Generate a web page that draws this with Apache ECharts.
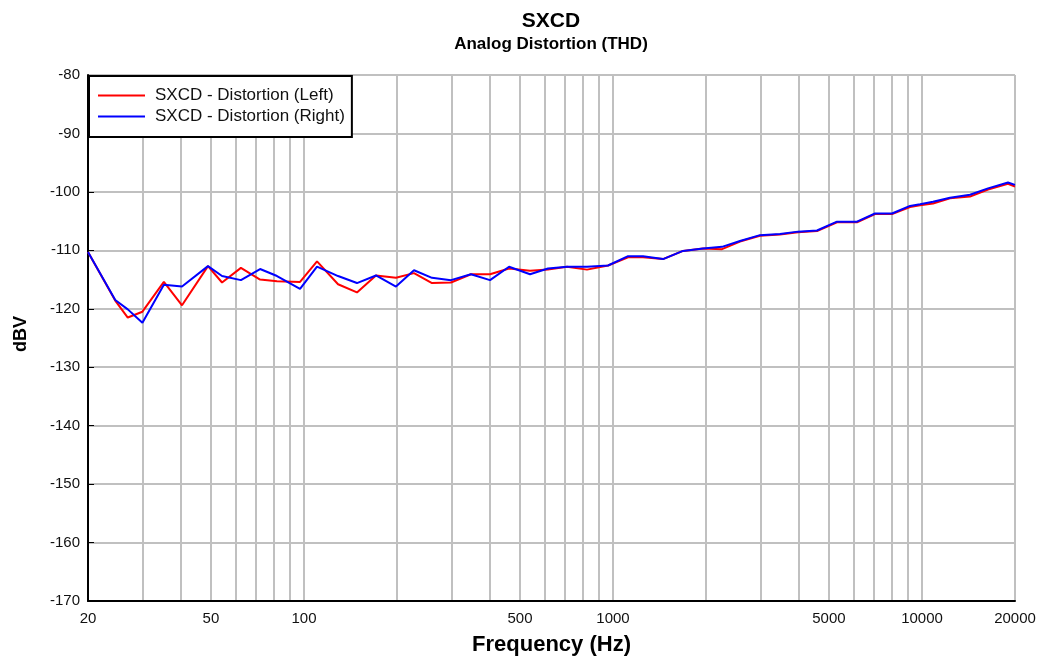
<!DOCTYPE html>
<html>
<head>
<meta charset="utf-8">
<script src="https://cdn.jsdelivr.net/npm/echarts@6/dist/echarts.min.js"></script>
<style>
  html, body { margin: 0; padding: 0; background: #fff; }
  #chart { width: 1042px; height: 661px; }
</style>
</head>
<body>
<div id="chart"></div>
<script>
// Frequency points (Hz) of the THD sweep
const freqs = [20, 24.5, 26.9, 30, 35.2, 40.3, 48.9, 54.3, 62.5, 72.1, 81.8, 97.1, 110.2, 128.9, 148.4, 171, 198.5, 227, 259.6, 299,
  347, 400, 461, 539, 616, 710, 824, 964, 1119, 1251, 1452, 1685, 1956, 2254, 2576, 2990, 3471, 3969, 4573, 5308,
  6162, 7046, 7998, 9146, 9855, 10857, 12323, 14302, 16356, 18980, 20000];

// Distortion, left channel (dBV)
const leftDist = [-110.3, -118.6, -121.5, -120.5, -115.4, -119.4, -112.7, -115.5, -113.0, -115.0, -115.3, -115.4, -111.9, -115.8, -117.2, -114.3, -114.7, -113.9, -115.6, -115.5,
  -114.1, -114.1, -113.1, -113.5, -113.3, -112.8, -113.3, -112.6, -111.2, -111.2, -111.5, -110.1, -109.7, -109.8, -108.5, -107.5, -107.3, -106.9, -106.7, -105.2,
  -105.2, -103.8, -103.8, -102.6, -102.3, -102.0, -101.1, -100.8, -99.6, -98.6, -99.1];

// Distortion, right channel (dBV)
const rightDist = [-110.3, -118.5, -120.1, -122.4, -115.9, -116.2, -112.7, -114.4, -115.1, -113.2, -114.4, -116.6, -112.8, -114.4, -115.6, -114.3, -116.2, -113.4, -114.7, -115.1,
  -114.1, -115.1, -112.8, -114.1, -113.1, -112.8, -112.8, -112.6, -111.0, -111.0, -111.5, -110.1, -109.7, -109.4, -108.4, -107.4, -107.2, -106.8, -106.6, -105.1,
  -105.1, -103.7, -103.7, -102.4, -102.1, -101.7, -101.0, -100.5, -99.4, -98.4, -98.8];

// Labelled frequencies and the full set of log grid lines
const xLabels = [20, 50, 100, 500, 1000, 5000, 10000, 20000];
const xGrid = [20, 30, 40, 50, 60, 70, 80, 90, 100, 200, 300, 400, 500, 600, 700, 800, 900,
  1000, 2000, 3000, 4000, 5000, 6000, 7000, 8000, 9000, 10000, 20000];

const seriesNames = ['SXCD - Distortion (Left)', 'SXCD - Distortion (Right)'];

const font = 'Arial, "Liberation Sans", sans-serif';
const chart = echarts.init(document.getElementById('chart'), null, { renderer: 'canvas' });

const pairs = arr => freqs.map((f, i) => [f, arr[i]]);

chart.setOption({
  backgroundColor: '#ffffff',
  animation: false,
  title: {
    text: 'SXCD',
    subtext: 'Analog Distortion (THD)',
    left: 546,
    textAlign: 'center',
    top: 6,
    itemGap: 4,
    textStyle: { fontFamily: font, fontSize: 21, fontWeight: 'bold', color: '#000' },
    subtextStyle: { fontFamily: font, fontSize: 17, fontWeight: 'bold', color: '#000' }
  },
  legend: {
    orient: 'vertical',
    left: 89,
    top: 76,
    padding: [11, 7, 12, 9],
    itemGap: 4,
    itemWidth: 47,
    itemHeight: 2,
    icon: 'rect',
    backgroundColor: '#fff',
    borderColor: '#000',
    borderWidth: 2,
    textStyle: { fontFamily: font, fontSize: 17, lineHeight: 17, color: '#111', padding: [0, 0, 0, 5] },
    data: seriesNames
  },
  grid: {
    left: 88, right: 27, top: 75, bottom: 58,
    show: true,
    borderColor: '#000',
    borderWidth: 1,
    backgroundColor: '#fff'
  },
  xAxis: {
    type: 'log',
    logBase: 10,
    min: 20,
    max: 20000,
    name: 'Frequency (Hz)',
    nameLocation: 'middle',
    nameGap: 33,
    nameTextStyle: { fontFamily: font, fontSize: 22, fontWeight: 'bold', color: '#000' },
    axisLine: { show: true, lineStyle: { color: '#000', width: 2 } },
    axisTick: { show: false, customValues: xGrid },
    axisLabel: {
      customValues: xLabels,
      fontFamily: font, fontSize: 15, color: '#111', margin: 10,
      formatter: v => String(Math.round(v))
    },
    splitLine: { show: true, lineStyle: { color: '#c0c0c0', width: 2 } }
  },
  yAxis: {
    type: 'value',
    min: -170,
    max: -80,
    interval: 10,
    name: 'dBV',
    nameLocation: 'middle',
    nameGap: 58,
    nameTextStyle: { fontFamily: font, fontSize: 18, fontWeight: 'bold', color: '#000', padding: [0, 0, 0, 8] },
    axisLine: { show: true, lineStyle: { color: '#000', width: 2 } },
    axisTick: { show: true, inside: true, length: 6, lineStyle: { color: '#000', width: 1 } },
    axisLabel: { fontFamily: font, fontSize: 15, color: '#111', margin: 8 },
    splitLine: { show: true, lineStyle: { color: '#c0c0c0', width: 2 } }
  },
  series: [
    {
      name: seriesNames[0],
      type: 'line',
      data: pairs(leftDist),
      showSymbol: false,
      symbol: 'none',
      lineStyle: { color: '#ff0000', width: 2 },
      itemStyle: { color: '#ff0000' },
      z: 2
    },
    {
      name: seriesNames[1],
      type: 'line',
      data: pairs(rightDist),
      showSymbol: false,
      symbol: 'none',
      lineStyle: { color: '#0000ff', width: 2 },
      itemStyle: { color: '#0000ff' },
      z: 3
    }
  ]
});
</script>
</body>
</html>
